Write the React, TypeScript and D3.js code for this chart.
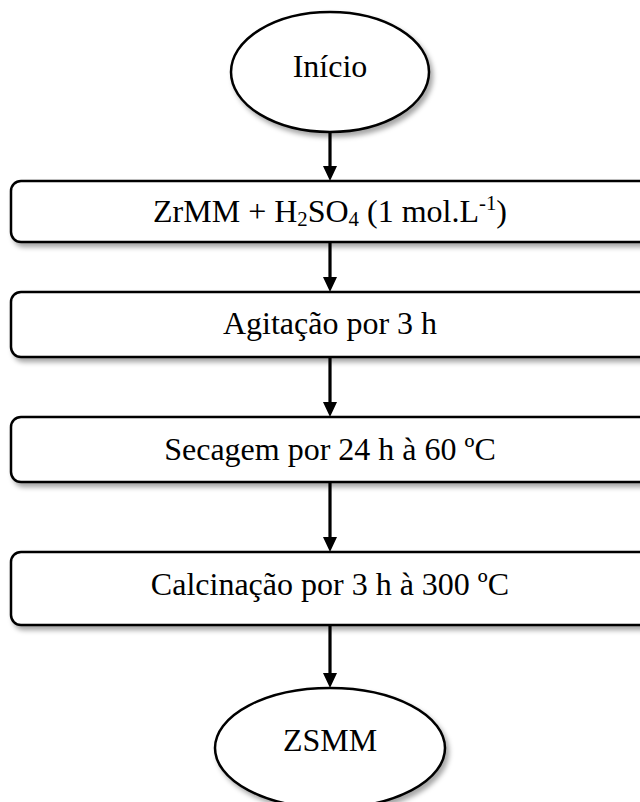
import React from "react";
import * as d3 from "d3";

const W = 640;
const H = 802;

// Flowchart content
const startLabel = "Início";
const endLabel = "ZSMM";
const stepLabels = [
  "ZrMM + H2SO4 (1 mol.L-1)",
  "Agitação por 3 h",
  "Secagem por 24 h à 60 ºC",
  "Calcinação por 3 h à 300 ºC",
];

// layout (pixels)
const cx = 330;
const startEllipse = { cy: 72, rx: 99, ry: 60 };
const endEllipse = { cy: 748, rx: 115, ry: 60 };
const boxTops = [181, 292, 417, 552];
const boxBottoms = [242, 357, 482, 625];
const textBaselines = [222, 334, 460, 595];
const boxLeft = 11;
const boxRight = 650;
const FS = 32;

function StepText({ label, x, y }: { label: string; x: number; y: number }) {
  const fs = FS;
  const small = fs * 0.65;
  if (label.startsWith("ZrMM")) {
    return (
      <text x={x} y={y} textAnchor="middle" fontFamily="Liberation Serif" fontSize={fs} fill="#000">
        <tspan>ZrMM + H</tspan>
        <tspan fontSize={small} dy={4}>2</tspan>
        <tspan dy={-4}>SO</tspan>
        <tspan fontSize={small} dy={4}>4</tspan>
        <tspan dy={-4}> (1 mol.L</tspan>
        <tspan fontSize={small} dy={-12}>-1</tspan>
        <tspan dy={12}>)</tspan>
      </text>
    );
  }
  return (
    <text x={x} y={y} textAnchor="middle" fontFamily="Liberation Serif" fontSize={fs} fill="#000">
      {label}
    </text>
  );
}

function Arrow({ y1, y2 }: { y1: number; y2: number }) {
  const head = 15;
  const hw = 7;
  const path = d3.path();
  path.moveTo(cx - hw, y2 - head);
  path.lineTo(cx + hw, y2 - head);
  path.lineTo(cx, y2);
  path.closePath();
  return (
    <g>
      <line x1={cx} x2={cx} y1={y1} y2={y2 - head + 1} stroke="#000" strokeWidth={3.2} />
      <path d={path.toString()} fill="#000" />
    </g>
  );
}

export default function App() {
  const arrows: [number, number][] = [
    [startEllipse.cy + startEllipse.ry, boxTops[0]],
    ...boxTops.slice(1).map((t, i) => [boxBottoms[i], t] as [number, number]),
    [boxBottoms[boxBottoms.length - 1], endEllipse.cy - endEllipse.ry],
  ];
  return (
    <svg
      width={W}
      height={H}
      style={{ position: "absolute", left: 0, top: 0, background: "#fff" }}
    >
      <defs>
        <filter id="sh" x="-10%" y="-20%" width="130%" height="160%">
          <feDropShadow dx={3} dy={4} stdDeviation={2.5} floodColor="#000" floodOpacity={0.35} />
        </filter>
      </defs>
      <rect width={W} height={H} fill="#fff" />
      {arrows.map(([a, b], i) => (
        <Arrow key={i} y1={a} y2={b} />
      ))}
      <ellipse
        cx={cx}
        cy={startEllipse.cy}
        rx={startEllipse.rx}
        ry={startEllipse.ry}
        fill="#fff"
        stroke="#000"
        strokeWidth={2.5}
        filter="url(#sh)"
      />
      <text x={cx} y={77} textAnchor="middle" fontFamily="Liberation Serif" fontSize={FS}>
        {startLabel}
      </text>
      {stepLabels.map((label, i) => {
        const t = boxTops[i];
        const b = boxBottoms[i];
        return (
          <g key={label}>
            <rect
              x={boxLeft}
              y={t}
              width={boxRight - boxLeft}
              height={b - t}
              rx={10}
              ry={10}
              fill="#fff"
              stroke="#000"
              strokeWidth={2.5}
              filter="url(#sh)"
            />
            <StepText label={label} x={cx} y={textBaselines[i]} />
          </g>
        );
      })}
      <ellipse
        cx={cx}
        cy={endEllipse.cy}
        rx={endEllipse.rx}
        ry={endEllipse.ry}
        fill="#fff"
        stroke="#000"
        strokeWidth={2.5}
        filter="url(#sh)"
      />
      <text x={cx} y={751} textAnchor="middle" fontFamily="Liberation Serif" fontSize={FS}>
        {endLabel}
      </text>
    </svg>
  );
}
